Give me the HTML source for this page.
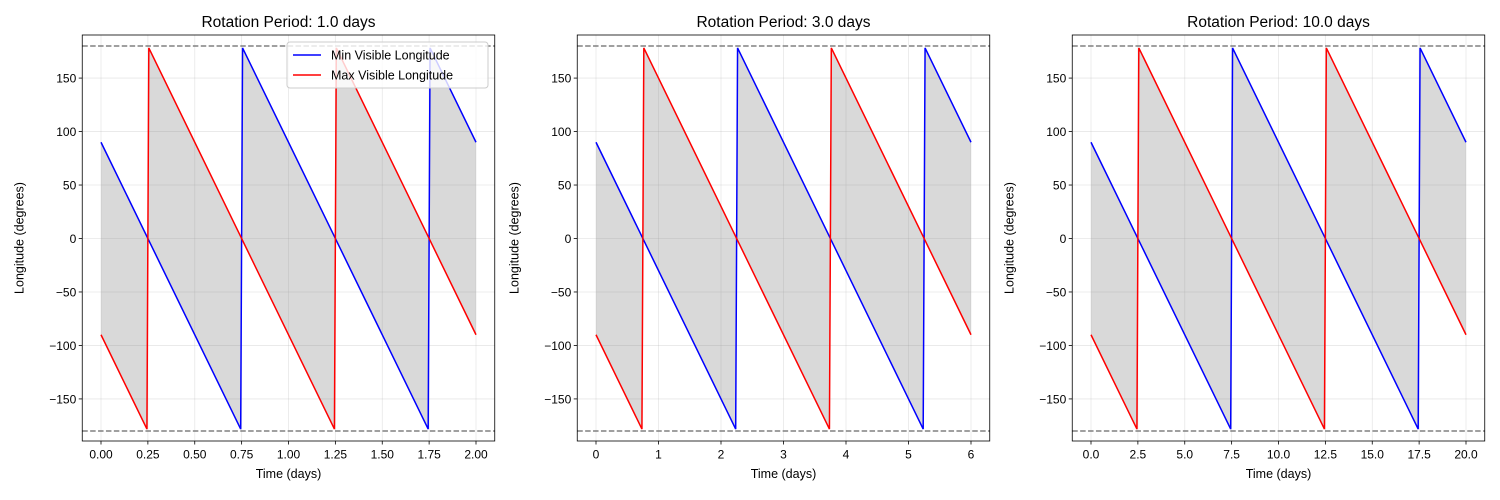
<!DOCTYPE html>
<html><head><meta charset="utf-8"><style>
body{margin:0;background:#fff;font-family:"Liberation Sans","DejaVu Sans",sans-serif}
svg{display:block}
</style></head><body>
<svg id="chart" width="1500" height="500" xmlns="http://www.w3.org/2000/svg"></svg>
<script>
const periods=[1,3,10];
const phaseTimes=[0,0.245,0.255,0.745,0.755,1.245,1.255,1.745,1.755,2.0];
const minLongitude=[90,1.8,-1.8,-178.2,178.2,1.8,-1.8,-178.2,178.2,90];
const maxLongitude=[-90,-178.2,178.2,1.8,-1.8,-178.2,178.2,1.8,-1.8,-90];
const yTicks=[-150,-100,-50,0,50,100,150];
const xTicks1=["0.00","0.25","0.50","0.75","1.00","1.25","1.50","1.75","2.00"];
const xTicks2=["0","1","2","3","4","5","6"];
const xTicks3=["0.0","2.5","5.0","7.5","10.0","12.5","15.0","17.5","20.0"];
const xTickSets=[xTicks1,xTicks2,xTicks3];
const panelLeft=[82.25,577.25,1072.25];
const W=412.5,TOP=35,BOT=441;
const svg=document.getElementById('chart');
const NS='http://www.w3.org/2000/svg';
function mk(tag,attrs,parent){const e=document.createElementNS(NS,tag);for(const k in attrs)e.setAttribute(k,attrs[k]);(parent||svg).appendChild(e);return e;}
const yS=v=>238.5-v*(385/360);
periods.forEach((P,i)=>{
  const L=panelLeft[i],xmax=2*P,pad=0.1*P;
  const xS=t=>L+(t+pad)/(xmax+2*pad)*W;
  const g=mk('g',{});
  
  
  xTickSets[i].forEach(lbl=>{const x=xS(parseFloat(lbl));
    const gl=mk('line',{x1:x,x2:x,y1:TOP,y2:BOT,stroke:'#b0b0b0','stroke-opacity':0.3,'stroke-width':0.8},g);
    
    mk('line',{x1:x,x2:x,y1:BOT,y2:BOT+3.5,stroke:'#000','stroke-width':0.8},g);
    const t=mk('text',{x:x,y:BOT+17.5,'text-anchor':'middle','font-size':12,fill:'#000'},g);t.textContent=lbl;
    });
  yTicks.forEach(v=>{const y=yS(v);
    const gl=mk('line',{x1:L,x2:L+W,y1:y,y2:y,stroke:'#b0b0b0','stroke-opacity':0.3,'stroke-width':0.8},g);
    
    mk('line',{x1:L-3.5,x2:L,y1:y,y2:y,stroke:'#000','stroke-width':0.8},g);
    const t=mk('text',{x:L-6,y:y+4.5,'text-anchor':'end','font-size':12,fill:'#000'},g);t.textContent=String(v).replace('-','\u2212');
    });
  const ts=phaseTimes.map(p=>p*P);
  let d='M'+ts.map((t,k)=>xS(t)+','+yS(minLongitude[k])).join('L');
  for(let k=ts.length-1;k>=0;k--)d+='L'+xS(ts[k])+','+yS(maxLongitude[k]);
  const f=mk('path',{d:d+'Z',fill:'#808080','fill-opacity':0.3,stroke:'none'},g);
  
  [180,-180].forEach(v=>{const l=mk('line',{x1:L,x2:L+W,y1:yS(v),y2:yS(v),stroke:'#808080','stroke-width':1.5,'stroke-dasharray':'5.5,2.4'},g);
    });
  const pb=mk('polyline',{points:ts.map((t,k)=>xS(t)+','+yS(minLongitude[k])).join(' '),fill:'none',stroke:'#0000ff','stroke-width':1.5},g);
  
  const pr=mk('polyline',{points:ts.map((t,k)=>xS(t)+','+yS(maxLongitude[k])).join(' '),fill:'none',stroke:'#ff0000','stroke-width':1.5},g);
  
  const fr=mk('rect',{x:L,y:TOP,width:W,height:BOT-TOP,fill:'none',stroke:'#000','stroke-width':0.8},g);
  
  const ti=mk('text',{x:L+W/2,y:27,'text-anchor':'middle','font-size':15.5,fill:'#000'},g);ti.textContent='Rotation Period: '+P.toFixed(1)+' days';
  
  const xl=mk('text',{x:L+W/2,y:478,'text-anchor':'middle','font-size':12.5,fill:'#000'},g);xl.textContent='Time (days)';
  
  const yl=mk('text',{x:0,y:0,'text-anchor':'middle','font-size':12.5,fill:'#000',transform:`translate(${L-59},238) rotate(-90)`},g);yl.textContent='Longitude (degrees)';
  
  if(i===0){
    const lg=mk('g',{},g);
    
    mk('rect',{x:287,y:42,width:201,height:46,rx:3,fill:'#fff','fill-opacity':0.8,stroke:'#ccc'},lg);
    [['#0000ff','Min Visible Longitude',55],['#ff0000','Max Visible Longitude',75]].forEach(([c,s,y])=>{
      const e=mk('g',{},lg);
      mk('line',{x1:293,x2:321,y1:y,y2:y,stroke:c,'stroke-width':1.5},e);
      const t=mk('text',{x:331,y:y+4.5,'font-size':12.5,fill:'#000'},e);t.textContent=s;});
  }
});
</script>
</body></html>
